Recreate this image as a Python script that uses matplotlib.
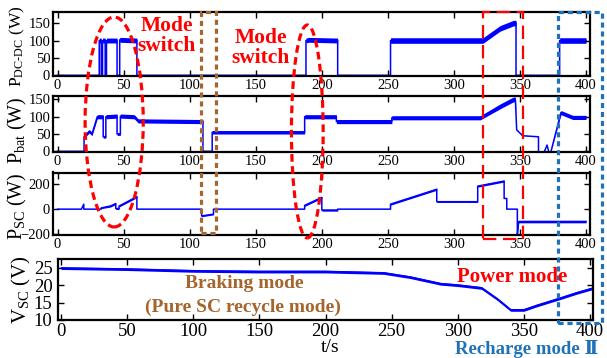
import numpy as np
import matplotlib
matplotlib.use('Agg')
import matplotlib.pyplot as plt
from matplotlib.patches import Ellipse, Rectangle
from matplotlib.transforms import blended_transform_factory

plt.rcParams['font.family'] = ['Liberation Serif', 'DejaVu Serif']
plt.rcParams['mathtext.fontset'] = 'custom'
plt.rcParams['mathtext.rm'] = 'Liberation Serif'
plt.rcParams['mathtext.it'] = 'Liberation Serif:italic'
plt.rcParams['mathtext.bf'] = 'Liberation Serif:bold'

# ---------------- data ----------------
# P_DC-DC (W)
pdc_t = [0, 31.5, 31.5, 33, 33, 34, 34, 36, 36, 37, 37, 45, 45, 47, 47, 60, 60, 188, 188, 190,
         212, 212, 252, 252, 322, 335, 345, 347, 347, 380, 380, 400]
pdc_v = [0, 0, 100, 100, 0, 0, 100, 100, 0, 0, 100, 100, 0, 0, 102, 100, 0, 0, 100, 102,
         100, 0, 0, 100, 100, 135, 150, 150, 0, 0, 100, 100]
pdc_r = [0, 0, 7, 7, 0, 0, 7, 7, 0, 0, 7, 7, 0, 0, 7, 7, 0, 0, 7, 7,
         7, 0, 0, 8, 8, 8, 8, 8, 0, 0, 8, 8]

# P_bat (W)
pbat_t = [0, 20, 20, 24, 26, 30, 34.5, 34.5, 36.5, 36.5, 45, 45, 47.5, 47.5, 58, 61, 110, 110, 117, 117,
          187, 187, 211, 211, 253, 253, 320, 335, 345, 346.5, 347.5, 352, 364, 364, 368, 370.5, 372, 373.5, 381, 390,
          400]
pbat_v = [0, 0, 42, 58, 50, 100, 100, 42, 42, 100, 102, 50, 50, 102, 100, 88, 86, 0, 0, 55,
          55, 100, 100, 86, 86, 97, 97, 130, 150, 150, 62, 45, 42, -30, -5, 18, -5, 0, 112, 98,
          98]
pbat_r = [0, 0, 4, 5, 5, 6, 6, 4, 4, 6, 6, 4, 4, 6, 6, 6, 6, 0, 0, 5,
          5, 6, 6, 6, 6, 6, 6, 7, 7, 7, 0, 0, 0, 0, 0, 0, 0, 0, 6, 6,
          6]

# P_SC (W)
psc_t = [0, 18, 19.8, 19.8, 33, 33, 40, 44, 44, 46.5, 46.5, 60, 60, 109, 109, 118, 118, 187, 187, 200,
         200, 212, 212, 252, 252, 287, 287, 318, 318, 338, 338, 340, 340, 348, 348, 349, 400]
psc_v = [0, 0, 40, 0, 0, 10, 25, 45, 5, 5, 25, 100, 0, 0, -55, -40, 0, 0, 30, 95,
         -8, -8, 0, 0, 40, 160, 60, 60, 185, 226, 86, 86, 0, 0, -210, -100, -100]
psc_r = [0, 0, 0, 0, 0, 6, 8, 8, 8, 8, 8, 8, 0, 0, 6, 6, 0, 0, 8, 8,
         8, 8, 0, 0, 8, 8, 6, 6, 8, 8, 0, 0, 0, 0, 0, 10, 10]

# V_SC (V)
vsc_t = [0, 50, 100, 150, 200, 244, 264, 287, 300, 318, 330, 340, 350, 360, 377, 390, 402]
vsc_v = [24.9, 24.6, 24.1, 23.9, 23.9, 23.5, 22.3, 20.4, 20.0, 19.2, 16.0, 12.9, 12.9, 14.2, 16.2, 17.8, 19.1]
vsc_r = [0.4] * len(vsc_t)

xticks = [0, 50, 100, 150, 200, 250, 300, 350, 400]

BLUE = '#0000FF'
RED = '#FF0000'
BROWN = '#A5652D'
MBLUE = '#1F72B8'

fig = plt.figure(figsize=(6.07, 3.58), dpi=100)
W, H = 607.0, 358.0

def box(l, t, r, b):
    return [l / W, 1 - b / H, (r - l) / W, (b - t) / H]

ax1 = fig.add_axes(box(53, 12, 590, 76))
ax2 = fig.add_axes(box(53, 96, 590, 152))
ax3 = fig.add_axes(box(53, 172.5, 590, 235))
ax4 = fig.add_axes(box(58, 259, 593, 320))

def draw(ax, t, v, r):
    t = np.asarray(t, float); v = np.asarray(v, float); r = np.asarray(r, float)
    ax.fill_between(t, v - r, v + r, color=BLUE, lw=0)
    ax.plot(t, v, color=BLUE, lw=1.1)

draw(ax1, pdc_t, pdc_v, pdc_r)
draw(ax2, pbat_t, pbat_v, pbat_r)
draw(ax3, psc_t, psc_v, psc_r)
draw(ax4, vsc_t, vsc_v, vsc_r)

for ax in (ax1, ax2, ax3):
    ax.set_xlim(-3.5, 403)
    ax.set_xticks(xticks)
    ax.tick_params(labelsize=10.5, pad=2)
ax1.set_ylim(-2, 182); ax1.set_yticks([0, 50, 100, 150])
ax2.set_ylim(-2, 160); ax2.set_yticks([0, 50, 100, 150])
ax3.set_ylim(-208, 295); ax3.set_yticks([-200, 0, 200])
ax4.set_xlim(-2.3, 402.3); ax4.set_xticks(xticks)
ax4.set_ylim(10, 27.5); ax4.set_yticks([10, 15, 20, 25])
ax4.tick_params(labelsize=13.5, pad=2)
ax4.tick_params(axis='y', pad=4)

for ax in (ax1, ax2, ax3, ax4):
    ax.tick_params(direction='in', top=True, right=True, length=4, width=1)
    for s in ax.spines.values():
        s.set_linewidth(1.6)

# y labels
fig.text(17 / W, 1 - 46 / H, r'P$_{\mathregular{DC\text{-}DC}}$ (W)', rotation=90,
         ha='center', va='center', fontsize=12.5)
fig.text(17 / W, 1 - 130 / H, r'P$_{\mathregular{bat}}$ (W)', rotation=90,
         ha='center', va='center', fontsize=14.5)
fig.text(17 / W, 1 - 206 / H, r'P$_{\mathregular{SC}}$ (W)', rotation=90,
         ha='center', va='center', fontsize=14.5)
fig.text(21 / W, 1 - 290 / H, r'V$_{\mathregular{SC}}$ (V)', rotation=90,
         ha='center', va='center', fontsize=15)
fig.text(330 / W, 1 - 348 / H, 't/s', ha='center', va='center', fontsize=14)

# annotations
tr = blended_transform_factory(ax1.transData, fig.transFigure)
fig.add_artist(Ellipse((42.8, 1 - 122 / H), 44, 210 / H, transform=tr, fill=False,
                       ec=RED, lw=2.3, ls=(0, (2.4, 1.4)), clip_on=False))
fig.add_artist(Ellipse((189, 1 - 131.5 / H), 24, 213 / H, transform=tr, fill=False,
                       ec=RED, lw=2.3, ls=(0, (2.4, 1.4)), clip_on=False))
fig.add_artist(Rectangle((108.7, 1 - 233 / H), 11, 221 / H, transform=tr, fill=False,
                         ec=BROWN, lw=2.3, ls=(0, (1.6, 1.2)), clip_on=False))
fig.add_artist(Rectangle((322, 1 - 239 / H), 30, 227 / H, transform=tr, fill=False,
                         ec=RED, lw=1.6, ls=(0, (6, 3)), clip_on=False))
fig.add_artist(Rectangle((379, 1 - 323 / H), 33, 311 / H, transform=tr, fill=False,
                         ec=MBLUE, lw=2.3, ls=(0, (1.6, 1.2)), clip_on=False))

fig.text(167 / W, 1 - 36 / H, 'Mode\nswitch', color=RED, fontweight='bold', fontsize=15.5,
         ha='center', va='center', linespacing=1.05)
fig.text(261 / W, 1 - 48 / H, 'Mode\nswitch', color=RED, fontweight='bold', fontsize=15.5,
         ha='center', va='center', linespacing=1.05)
fig.text(244 / W, 1 - 284 / H, 'Braking mode', color=BROWN, fontweight='bold', fontsize=14,
         ha='center', va='center')
fig.text(242.5 / W, 1 - 307 / H, '(Pure SC recycle mode)', color=BROWN, fontweight='bold',
         fontsize=14, ha='center', va='center')
fig.text(512 / W, 1 - 277 / H, 'Power mode', color=RED, fontweight='bold', fontsize=15,
         ha='center', va='center')
fig.text(527 / W, 1 - 349 / H, 'Recharge mode Ⅱ', color=MBLUE, fontweight='bold',
         fontsize=13.5, ha='center', va='center')

fig.savefig('out.png', dpi=100)
